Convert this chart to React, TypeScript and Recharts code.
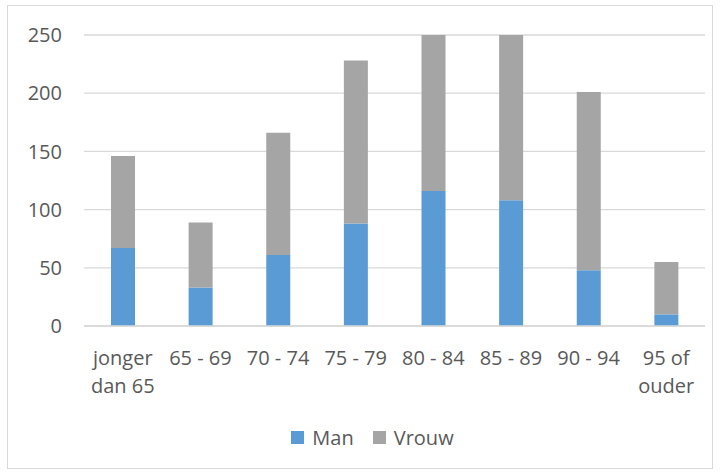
import React from 'react';
import { BarChart, Bar, XAxis, YAxis, CartesianGrid, Legend } from 'recharts';

const AGE_GROUPS = ['jonger dan 65', '65 - 69', '70 - 74', '75 - 79', '80 - 84', '85 - 89', '90 - 94', '95 of ouder'];
const MAN = [67, 33, 61, 88, 116, 108, 48, 10];
const VROUW = [79, 56, 105, 140, 134, 142, 153, 45];
const Y_TICKS = [0, 50, 100, 150, 200, 250];

const data = AGE_GROUPS.map((group, i) => ({ group, Man: MAN[i], Vrouw: VROUW[i] }));

const FONT = '"Open Sans", Lato, sans-serif';

// greedy word wrap, roughly what Excel does on narrow categories
const wrap = (label: string, max = 7) => {
  const lines: string[] = [];
  let cur = '';
  label.split(' ').forEach((w) => {
    if (!cur) cur = w;
    else if ((cur + ' ' + w).length <= max) cur += ' ' + w;
    else {
      lines.push(cur);
      cur = w;
    }
  });
  if (cur) lines.push(cur);
  return lines;
};

const CategoryTick = (props: any) => {
  const { x, y, payload } = props;
  const lines = wrap(payload.value);
  return (
    <text x={x} y={y + 31} textAnchor="middle" fill="#595959" fontSize={20} fontFamily={FONT}>
      {lines.map((l, i) => (
        <tspan key={i} x={x} dy={i === 0 ? 0 : 28}>{l}</tspan>
      ))}
    </text>
  );
};

const LegendContent = () => (
  <div style={{ display: 'flex', justifyContent: 'center', gap: 19, paddingLeft: 32, fontFamily: FONT, fontSize: 20, color: '#595959' }}>
    {[
      { name: 'Man', color: '#5b9bd5' },
      { name: 'Vrouw', color: '#a5a5a5' },
    ].map((it) => (
      <div key={it.name} style={{ display: 'flex', alignItems: 'center', gap: 8 }}>
        <div style={{ width: 13, height: 13, background: it.color }} />
        <span>{it.name}</span>
      </div>
    ))}
  </div>
);

export default function App() {
  return (
    <div style={{ position: 'absolute', left: 7, top: 5, width: 706, height: 464, border: '1px solid #d9d9d9', boxSizing: 'border-box', background: '#fff' }}>
      <BarChart
        width={704}
        height={462}
        data={data}
        margin={{ top: 29, right: 7, bottom: 0, left: 0 }}
      >
        <CartesianGrid vertical={false} stroke="#d9d9d9" strokeWidth={1.3} />
        <XAxis
          dataKey="group"
          axisLine={{ stroke: '#d9d9d9', strokeWidth: 1.3 }}
          tickLine={false}
          interval={0}
          height={115}
          tick={<CategoryTick />}
        />
        <YAxis
          domain={[0, 250]}
          ticks={Y_TICKS}
          axisLine={false}
          tickLine={false}
          width={76}
          tickMargin={16}
          tick={{ fill: '#595959', fontSize: 20, fontFamily: FONT }}
        />
        <Legend content={<LegendContent />} wrapperStyle={{ top: 418 }} />
        <Bar dataKey="Man" stackId="a" fill="#5b9bd5" barSize={24} isAnimationActive={false} />
        <Bar dataKey="Vrouw" stackId="a" fill="#a5a5a5" barSize={24} isAnimationActive={false} />
      </BarChart>
    </div>
  );
}
